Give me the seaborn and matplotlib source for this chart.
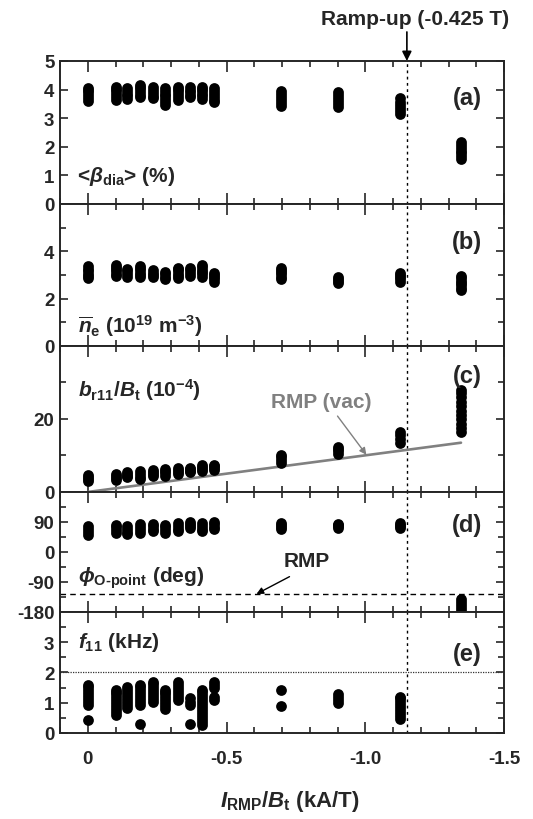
import numpy as np
import pandas as pd
import matplotlib
matplotlib.use('Agg')
import matplotlib.pyplot as plt
import seaborn as sns
from matplotlib.ticker import FixedLocator, MultipleLocator

# ---------------- data ----------------
x_pos = [0.0, -0.10, -0.14, -0.19, -0.235, -0.28, -0.325, -0.37, -0.41, -0.455,
         -0.695, -0.90, -1.125, -1.345]

beta_dia = [[3.60, 3.70, 3.80, 3.90, 4.00, 4.05], [3.64, 3.74, 3.84, 3.94, 4.02, 4.08],
            [3.67, 3.76, 3.85, 3.95, 4.06], [3.73, 3.82, 3.92, 4.02, 4.10, 4.17],
            [3.69, 3.78, 3.88, 3.98, 4.08], [3.46, 3.56, 3.66, 3.76, 3.86, 3.96, 4.06],
            [3.64, 3.74, 3.84, 3.94, 4.02, 4.08], [3.73, 3.82, 3.91, 4.00, 4.10],
            [3.67, 3.76, 3.85, 3.95, 4.03, 4.10], [3.55, 3.65, 3.75, 3.85, 3.95, 4.06],
            [3.44, 3.54, 3.64, 3.74, 3.84, 3.94], [3.40, 3.50, 3.60, 3.70, 3.80, 3.90],
            [3.15, 3.25, 3.35, 3.45, 3.57, 3.69], [1.57, 1.67, 1.77, 1.87, 1.97, 2.07, 2.16]]

n_e = [[2.86, 2.96, 3.06, 3.16, 3.27, 3.40], [2.96, 3.06, 3.16, 3.26, 3.35, 3.43],
       [2.93, 3.04, 3.15, 3.26], [2.90, 3.00, 3.10, 3.20, 3.28, 3.36],
       [2.90, 3.00, 3.10, 3.21], [2.83, 2.93, 3.04, 3.14],
       [2.86, 2.96, 3.06, 3.16, 3.24, 3.31], [2.97, 3.08, 3.20, 3.31],
       [2.93, 3.03, 3.13, 3.23, 3.33, 3.43], [2.71, 2.81, 2.91, 3.00, 3.10],
       [2.83, 2.93, 3.03, 3.13, 3.22, 3.31], [2.67, 2.76, 2.85, 2.93],
       [2.71, 2.81, 2.91, 3.00, 3.10], [2.36, 2.46, 2.56, 2.66, 2.76, 2.86, 2.96]]

b_r11 = [[2.9, 3.5, 4.1, 4.7], [3.3, 3.9, 4.4, 4.9], [4.0, 4.5, 5.0, 5.4],
         [3.5, 4.2, 4.9, 5.7], [4.3, 4.9, 5.5, 6.0], [4.5, 5.1, 5.7, 6.2],
         [4.9, 5.4, 6.0, 6.5], [5.4, 5.8, 6.2, 6.5], [5.7, 6.3, 6.9, 7.4],
         [6.1, 6.5, 7.0, 7.4], [7.9, 8.7, 9.5, 10.2], [10.5, 11.1, 11.8, 12.4],
         [13.5, 14.5, 15.5, 16.4],
         [16.3, 17.5, 18.7, 19.9, 21.1, 22.3, 23.5, 24.7, 25.9, 27.0, 27.9]]

phi_o = [[50, 59, 68, 77], [58, 66, 74, 82], [53, 61, 70, 78], [58, 66, 75, 83],
         [62, 70, 78, 85], [58, 66, 74, 82], [62, 70, 79, 87], [72, 78, 84, 90],
         [62, 70, 79, 87], [68, 75, 83, 90], [70, 76, 82, 87], [72, 77, 81, 85],
         [72, 77, 82, 87], [-141, -150, -159, -168, -178]]

f_11 = [[0.44, 0.92, 1.02, 1.12, 1.22, 1.32, 1.42, 1.51, 1.59],
        [0.59, 0.69, 0.79, 0.89, 0.99, 1.09, 1.19, 1.29, 1.36, 1.42],
        [0.82, 0.92, 1.02, 1.12, 1.22, 1.32, 1.43, 1.53],
        [0.31, 0.92, 1.02, 1.12, 1.22, 1.32, 1.42, 1.51, 1.59],
        [1.03, 1.13, 1.23, 1.33, 1.43, 1.53, 1.62, 1.70],
        [0.78, 0.88, 0.98, 1.08, 1.18, 1.28, 1.35, 1.42],
        [1.09, 1.19, 1.29, 1.39, 1.49, 1.59, 1.70],
        [0.31, 0.92, 1.03, 1.14],
        [0.26, 0.36, 0.46, 0.56, 0.66, 0.76, 0.86, 0.96, 1.06, 1.16, 1.26, 1.35, 1.42],
        [1.09, 1.18, 1.5, 1.6, 1.70], [0.89, 1.41], [0.98, 1.08, 1.19, 1.29],
        [0.47, 0.57, 0.67, 0.77, 0.87, 0.97, 1.07, 1.15, 1.2]]

x_ticks = [0, -0.5, -1.0, -1.5]
x_tick_labels = ['0', '-0.5', '-1.0', '-1.5']
ramp_up_x = -1.15
rmp_vac_x = [0.0, -1.345]
rmp_vac_y = [0.0, 13.5]
rmp_phase = -126
f_limit = 2.0


def long_form(xs, groups):
    rows = [(x, y) for x, ys in zip(xs, groups) for y in ys]
    return pd.DataFrame(rows, columns=['x', 'y'])


# ---------------- style ----------------
sns.set_style('ticks')
FONT = 'Liberation Sans'
plt.rcParams['font.family'] = [FONT, 'DejaVu Sans']
plt.rcParams['font.weight'] = 'bold'
plt.rcParams['mathtext.fontset'] = 'custom'
plt.rcParams['mathtext.rm'] = FONT + ':bold'
plt.rcParams['mathtext.bf'] = FONT + ':bold'
plt.rcParams['mathtext.it'] = FONT + ':italic:bold'
plt.rcParams['mathtext.sf'] = FONT + ':bold'

fig = plt.figure(figsize=(5.33, 8.2), dpi=100)
gs = fig.add_gridspec(5, 1, height_ratios=[143, 142, 146, 120, 121], hspace=0,
                      left=0.1126, right=0.9456, top=0.9244, bottom=0.1049)
axes = [fig.add_subplot(gs[i]) for i in range(5)]

panels = [
    (beta_dia, (0, 5), [0, 1, 2, 3, 4, 5], [], '(a)'),
    (n_e, (0, 6), [0, 2, 4], [1, 3, 5], '(b)'),
    (b_r11, (0, 40), [0, 20], [10, 30], '(c)'),
    (phi_o, (-180, 180), [-180, -90, 0, 90], [-135, -45, 45, 135], '(d)'),
    (f_11, (0, 4), [0, 1, 2, 3], [0.5, 1.5, 2.5, 3.5], '(e)'),
]
label_y = [0.70, 0.69, 0.75, 0.675, 0.60]

for i, (ax, (vals, ylim, maj, mnr, tag)) in enumerate(zip(axes, panels)):
    df = long_form(x_pos, vals)
    sns.scatterplot(data=df, x='x', y='y', ax=ax, color='black', s=60,
                    linewidth=0, legend=False, zorder=3)
    ax.set_xlim(0.1, -1.5)
    ax.set_ylim(*ylim)
    ax.set_xlabel('')
    ax.set_ylabel('')
    ax.set_yticks(maj)
    ax.set_yticklabels([f'{v:g}' for v in maj])
    ax.yaxis.set_minor_locator(FixedLocator(mnr))
    ax.set_xticks(x_ticks)
    ax.xaxis.set_minor_locator(MultipleLocator(0.1))
    ax.tick_params(axis='both', which='both', direction='in', top=True, right=True,
                   width=1.2, labelsize=13.5, pad=4)
    ax.tick_params(axis='x', which='both', pad=12)
    ax.tick_params(axis='x', which='major', length=8)
    ax.tick_params(axis='x', which='minor', length=4.5)
    ax.tick_params(axis='y', which='major', length=6)
    ax.tick_params(axis='y', which='minor', length=4.5)
    for sp in ax.spines.values():
        sp.set_linewidth(1.4)
        sp.set_visible(True)
    if i < 4:
        ax.tick_params(axis='x', labelbottom=False)
    else:
        ax.set_xticklabels(x_tick_labels)
    plt.setp(ax.get_xticklabels() + ax.get_yticklabels(), fontweight='bold')
    ax.axvline(ramp_up_x, color='black', lw=1.0, ls=(0, (2, 2.5)), zorder=2)
    ax.text(0.917, label_y[i], tag, transform=ax.transAxes, ha='center',
            va='baseline', fontsize=17, fontweight='bold')

# panel labels
axes[0].text(0.038, 0.16, r'<$\beta_{\mathrm{dia}}$> (%)', transform=axes[0].transAxes,
             fontsize=15, fontweight='bold', va='baseline')
axes[1].text(0.04, 0.10, r'$\overline{n}_{\mathrm{e}}$ (10$^{\mathrm{19}}$ m$^{\mathrm{-3}}$)',
             transform=axes[1].transAxes, fontsize=15, fontweight='bold', va='baseline')
axes[2].text(0.04, 0.66, r'$b_{\mathrm{r11}}/B_{\mathrm{t}}$ (10$^{\mathrm{-4}}$)',
             transform=axes[2].transAxes, fontsize=15, fontweight='bold', va='baseline')
axes[3].text(0.04, 0.25, '$\\phi_{\\mathrm{O\u2010point}}$ (deg)',
             transform=axes[3].transAxes, fontsize=15, fontweight='bold', va='baseline')
axes[4].text(0.04, 0.71, r'$f_{\mathrm{11}}$ (kHz)',
             transform=axes[4].transAxes, fontsize=15, fontweight='bold', va='baseline')

# RMP vacuum line in (c)
sns.lineplot(x=rmp_vac_x, y=rmp_vac_y, ax=axes[2], color='#808080', lw=1.9,
             zorder=2, legend=False)
axes[2].annotate('', xy=(-1.004, 10.2), xytext=(-0.90, 20.8),
                 arrowprops=dict(arrowstyle='-|>', color='#808080', lw=1.0,
                                 mutation_scale=10, shrinkA=0, shrinkB=0))
axes[2].text(-0.842, 23.2, 'RMP (vac)', color='#808080', fontsize=15,
             fontweight='bold', ha='center', va='baseline')

# RMP phase line in (d)
axes[3].axhline(rmp_phase, color='black', lw=1.0, ls=(0, (4, 3)), zorder=2)
axes[3].annotate('', xy=(-0.608, rmp_phase), xytext=(-0.727, -74),
                 arrowprops=dict(arrowstyle='-|>', color='black', lw=1.0,
                                 mutation_scale=10, shrinkA=0, shrinkB=0))
axes[3].text(-0.79, -42, 'RMP', fontsize=15, fontweight='bold', ha='center',
             va='baseline')

# f limit in (e)
axes[4].axhline(f_limit, color='#333333', lw=0.9, ls=(0, (1, 1)), zorder=2)

# ramp-up annotation
axes[0].annotate('', xy=(ramp_up_x, 5), xytext=(ramp_up_x, 1.203),
                 textcoords=axes[0].get_xaxis_transform(), xycoords='data',
                 annotation_clip=False,
                 arrowprops=dict(arrowstyle='-|>', color='black', lw=1.2,
                                 mutation_scale=14, shrinkA=0, shrinkB=0))
fig.text(0.779, 0.9695, 'Ramp-up (-0.425 T)', ha='center', va='baseline',
         fontsize=15, fontweight='bold')

# x label
fig.text(0.1126 + 0.518 * (0.9456 - 0.1126), 0.016,
         r'$I_{\mathrm{RMP}}/B_{\mathrm{t}}$ (kA/T)', ha='center', va='baseline',
         fontsize=16, fontweight='bold')

fig.savefig('out.png', dpi=100)
